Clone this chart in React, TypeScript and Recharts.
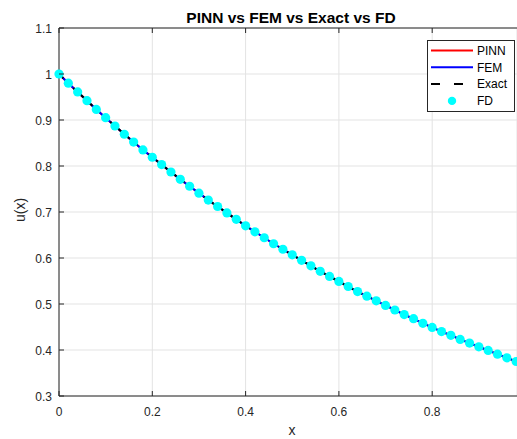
import React from "react";
import {
  ComposedChart,
  Line,
  Scatter,
  XAxis,
  YAxis,
  CartesianGrid,
  Legend,
} from "recharts";

const xValues = [
  0, 0.02, 0.04, 0.06, 0.08, 0.1, 0.12, 0.14, 0.16, 0.18, 0.2, 0.22, 0.24,
  0.26, 0.28, 0.3, 0.32, 0.34, 0.36, 0.38, 0.4, 0.42, 0.44, 0.46, 0.48, 0.5,
  0.52, 0.54, 0.56, 0.58, 0.6, 0.62, 0.64, 0.66, 0.68, 0.7, 0.72, 0.74, 0.76,
  0.78, 0.8, 0.82, 0.84, 0.86, 0.88, 0.9, 0.92, 0.94, 0.96, 0.98,
];
const uValues = [
  1.0, 0.98, 0.961, 0.942, 0.923, 0.905, 0.887, 0.869, 0.852, 0.835, 0.819,
  0.803, 0.787, 0.771, 0.756, 0.741, 0.726, 0.712, 0.698, 0.684, 0.67, 0.657,
  0.644, 0.631, 0.619, 0.607, 0.595, 0.583, 0.571, 0.56, 0.549, 0.538, 0.527,
  0.517, 0.507, 0.497, 0.487, 0.477, 0.468, 0.458, 0.449, 0.44, 0.432, 0.423,
  0.415, 0.407, 0.399, 0.391, 0.383, 0.375,
];
const pinnValues = uValues;
const femValues = uValues;
const exactValues = uValues;
const fdValues = uValues;

const xTicks = [0, 0.2, 0.4, 0.6, 0.8];
const yTicks = [0.3, 0.4, 0.5, 0.6, 0.7, 0.8, 0.9, 1, 1.1];

const data = xValues.map((x, i) => ({
  x,
  pinn: pinnValues[i],
  fem: femValues[i],
  exact: exactValues[i],
  fd: fdValues[i],
}));

const FONT = "'Liberation Sans', Arial, sans-serif";
const AXIS = "#262626";

const XTick = (props: any) => {
  const { x, y, payload } = props;
  return (
    <g>
      <line x1={x} x2={x} y1={y} y2={y - 5} stroke={AXIS} strokeWidth={1} />
      <text
        x={x}
        y={y + 20}
        textAnchor="middle"
        fontFamily={FONT}
        fontSize={12}
        fill={AXIS}
      >
        {payload.value}
      </text>
    </g>
  );
};

const TopTick = (props: any) => {
  const { x, y } = props;
  return <line x1={x} x2={x} y1={y} y2={y + 5} stroke={AXIS} strokeWidth={1} />;
};

const YTick = (props: any) => {
  const { x, y, payload } = props;
  return (
    <g>
      <line x1={x} x2={x + 5} y1={y} y2={y} stroke={AXIS} strokeWidth={1} />
      <text
        x={x - 7}
        y={y + 4.5}
        textAnchor="end"
        fontFamily={FONT}
        fontSize={12}
        fill={AXIS}
      >
        {payload.value}
      </text>
    </g>
  );
};

const legendItems = [
  { name: "PINN", color: "#ff0000", kind: "line" },
  { name: "FEM", color: "#0000ff", kind: "line" },
  { name: "Exact", color: "#000000", kind: "dash" },
  { name: "FD", color: "#00ffff", kind: "dot" },
];

const LegendBox = () => (
  <svg width={88} height={72} style={{ display: "block" }}>
    <rect x={0.5} y={0.5} width={87} height={71} fill="#ffffff" stroke="#262626" strokeWidth={1} />
    {legendItems.map((it, i) => {
      const cy = 10.5 + i * 16.8;
      return (
        <g key={it.name}>
          {it.kind === "line" && (
            <line x1={4} x2={46} y1={cy} y2={cy} stroke={it.color} strokeWidth={2} />
          )}
          {it.kind === "dash" && (
            <line
              x1={4}
              x2={46}
              y1={cy}
              y2={cy}
              stroke={it.color}
              strokeWidth={2}
              strokeDasharray="9 14"
            />
          )}
          {it.kind === "dot" && <circle cx={25} cy={cy} r={4.2} fill={it.color} />}
          <text x={50} y={cy + 4.3} fontFamily={FONT} fontSize={12} fill="#000000">
            {it.name}
          </text>
        </g>
      );
    })}
  </svg>
);

const CyanDot = (props: any) => {
  const { cx, cy } = props;
  return <circle cx={cx} cy={cy} r={4.6} fill="#00ffff" />;
};

export default function App() {
  return (
    <div
      style={{
        position: "absolute",
        left: 0,
        top: 0,
        width: 517,
        height: 439,
        background: "#ffffff",
        overflow: "hidden",
      }}
    >
      <ComposedChart
        width={517}
        height={439}
        data={data}
        margin={{ top: 18, right: 0, bottom: 0, left: 0 }}
      >
        <CartesianGrid stroke="#e3e3e3" strokeWidth={1} />
        <XAxis
          dataKey="x"
          type="number"
          domain={[0, 0.9818]}
          ticks={xTicks}
          height={43}
          tickSize={0}
          tickMargin={0}
          tickLine={false}
          axisLine={{ stroke: AXIS, strokeWidth: 1 }}
          tick={<XTick />}
          interval={0}
        />
        <XAxis
          xAxisId="top"
          orientation="top"
          dataKey="x"
          type="number"
          domain={[0, 0.9818]}
          ticks={xTicks}
          height={10}
          tickSize={0}
          tickMargin={0}
          tickLine={false}
          axisLine={{ stroke: AXIS, strokeWidth: 1 }}
          tick={<TopTick />}
          interval={0}
        />
        <YAxis
          type="number"
          domain={[0.3, 1.1]}
          ticks={yTicks}
          width={59}
          tickSize={0}
          tickMargin={0}
          tickLine={false}
          axisLine={{ stroke: AXIS, strokeWidth: 1 }}
          tick={<YTick />}
          interval={0}
        />
        <Legend
          layout="vertical"
          align="center"
          verticalAlign="middle"
          wrapperStyle={{ position: "absolute", left: 427, top: 40, width: 88, height: 72 }}
          content={() => <LegendBox />}
        />
        <Line
          dataKey="pinn"
          name="PINN"
          type="linear"
          stroke="#ff0000"
          strokeWidth={2}
          dot={false}
          activeDot={false}
          isAnimationActive={false}
        />
        <Line
          dataKey="fem"
          name="FEM"
          type="linear"
          stroke="#0000ff"
          strokeWidth={2}
          dot={false}
          activeDot={false}
          isAnimationActive={false}
        />
        <Line
          dataKey="exact"
          name="Exact"
          type="linear"
          stroke="#000000"
          strokeWidth={2}
          strokeDasharray="6 4"
          dot={false}
          activeDot={false}
          isAnimationActive={false}
        />
        <Scatter
          dataKey="fd"
          name="FD"
          fill="#00ffff"
          shape={<CyanDot />}
          isAnimationActive={false}
        />
        <text
          x={291}
          y={23}
          textAnchor="middle"
          fontFamily={FONT}
          fontSize={15.5}
          fontWeight="bold"
          fill="#000000"
        >
          PINN vs FEM vs Exact vs FD
        </text>
        <text
          x={292}
          y={435}
          textAnchor="middle"
          fontFamily={FONT}
          fontSize={14}
          fill={AXIS}
        >
          x
        </text>
        <text
          x={25}
          y={210}
          textAnchor="middle"
          fontFamily={FONT}
          fontSize={14}
          fill={AXIS}
          transform="rotate(-90 25 210)"
        >
          u(x)
        </text>
      </ComposedChart>
    </div>
  );
}
